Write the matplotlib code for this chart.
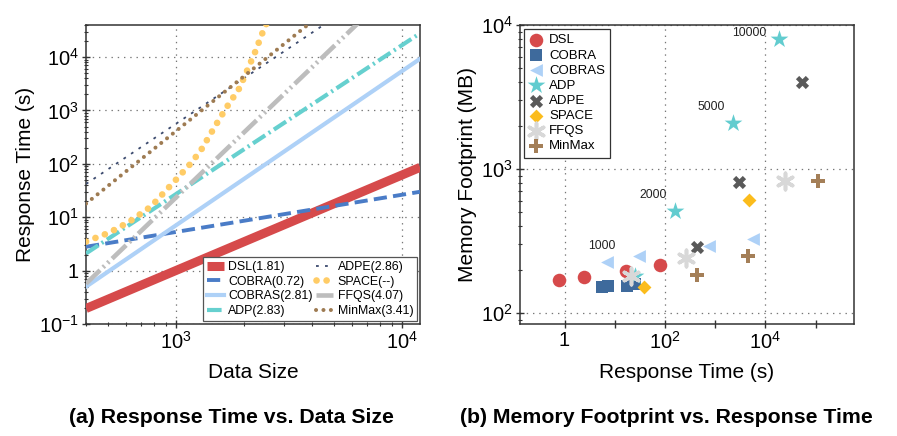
import numpy as np
import matplotlib
matplotlib.use("Agg")
import matplotlib.pyplot as plt
from matplotlib.ticker import FuncFormatter, FixedLocator, LogLocator, NullFormatter

plt.rcParams['font.family'] = ['Liberation Sans', 'DejaVu Sans']
plt.rcParams['mathtext.fontset'] = 'custom'
plt.rcParams['mathtext.rm'] = 'Liberation Sans'
plt.rcParams['mathtext.it'] = 'Liberation Sans:italic'
plt.rcParams['mathtext.bf'] = 'Liberation Sans:bold'
plt.rcParams['mathtext.default'] = 'regular'
plt.rcParams['lines.scale_dashes'] = False

# ---------------- data: panel (a) ----------------
size_ends = [400, 12000]
dsl_rt = [0.195, 86]
cobra_rt = [2.8, 30]
cobras_rt = [0.5, 9300]
adp_rt = [2.1, 28000]
adpe_rt = [42, 650000]
ffqs_rt = [0.57, 560000]
minmax_rt = [18, 2000000]
space_size = [400, 507, 621, 774, 982, 1165, 1291, 1477, 1663, 1905, 2098, 2240, 2455, 2700]
space_rt = [3.5, 5.15, 8.2, 15.8, 46.5, 103, 182, 480, 1100, 2600, 6600, 12600, 34700, 80000]
labels_a = ['DSL(1.81)', 'COBRA(0.72)', 'COBRAS(2.81)', 'ADP(2.83)',
            'ADPE(2.86)', 'SPACE(--)', 'FFQS(4.07)', 'MinMax(3.41)']

# ---------------- data: panel (b) ----------------
dsl_t = [0.795, 2.39, 16.9, 80];       dsl_m = [171, 177, 195, 214]
cobra_t = [5.55, 7.5, 17.9, 25.5];    cobra_m = [152, 153.5, 155, 158]
cobras_t = [7.0, 31, 769, 5610];      cobras_m = [225, 251, 291, 327]
adp_t = [25.5, 160, 2300, 19000];     adp_m = [180, 508, 2100, 7960]
adpe_t = [443, 3040, 53000];          adpe_m = [288, 807, 4010]
space_t = [38.5, 4800];               space_m = [151, 612]
ffqs_t = [21, 264, 24600];            ffqs_m = [180, 242, 820]
minmax_t = [443, 4590, 113000];       minmax_m = [185, 250, 820]
adp_sizes = ['1000', '2000', '5000', '10000']
names_b = ['DSL', 'COBRA', 'COBRAS', 'ADP', 'ADPE', 'SPACE', 'FFQS', 'MinMax']

spine_c = '#333333'

def logfmt(v, pos=None):
    e = int(round(np.log10(v)))
    if e == 0:
        return '1'
    return r'$10^{%d}$' % e

fig = plt.figure(figsize=(8.97, 4.36), dpi=100)
ax1 = fig.add_axes([0.0959, 0.2569, 0.3724, 0.6858])
ax2 = fig.add_axes([0.5797, 0.2569, 0.3724, 0.6858])

# ---- panel (a) ----
ax1.plot(size_ends, dsl_rt, color='#d64a4b', lw=6.5, solid_capstyle='butt', label=labels_a[0], zorder=3)
ax1.plot(size_ends, cobra_rt, color='#4a7cc7', lw=2.8, dashes=(9.5, 4.5), label=labels_a[1], zorder=3)
ax1.plot(size_ends, cobras_rt, color='#aed1f7', lw=3.0, label=labels_a[2], zorder=3)
ax1.plot(size_ends, adp_rt, color='#66d0cf', lw=3.0, dashes=(10.5, 3, 1.5, 3), label=labels_a[3], zorder=3)
ax1.plot(size_ends, adpe_rt, color='#3b4a6e', lw=1.3, dashes=(2, 4.5), label=labels_a[4], zorder=3)
ax1.plot(space_size, space_rt, color='#ffcc66', lw=4.8, dashes=(0.05, 7.2), dash_capstyle='round',
         label=labels_a[5], zorder=3)
ax1.plot(size_ends, ffqs_rt, color='#bdbdbd', lw=3.3, dashes=(14, 3, 1.5, 3, 1.5, 3), label=labels_a[6], zorder=3)
ax1.plot(size_ends, minmax_rt, color='#9e7b52', lw=2.9, dashes=(0.05, 5.3), dash_capstyle='round',
         label=labels_a[7], zorder=3)

ax1.set_xscale('log'); ax1.set_yscale('log')
ax1.set_xlim(400, 12000)
ax1.set_ylim(0.1, 40000)
ax1.xaxis.set_major_locator(FixedLocator([1e3, 1e4]))
ax1.xaxis.set_minor_locator(LogLocator(base=10, subs=np.arange(2, 10)))
ax1.xaxis.set_minor_formatter(NullFormatter())
ax1.xaxis.set_major_formatter(FuncFormatter(logfmt))
ax1.yaxis.set_major_locator(FixedLocator([0.1, 1, 10, 100, 1000, 10000]))
ax1.yaxis.set_minor_locator(LogLocator(base=10, subs=np.arange(2, 10), numticks=20))
ax1.yaxis.set_minor_formatter(NullFormatter())
ax1.yaxis.set_major_formatter(FuncFormatter(logfmt))
ax1.set_xlabel('Data Size', fontsize=15, labelpad=7)
ax1.set_ylabel('Response Time (s)', fontsize=15, labelpad=3)
ax1.grid(True, which='major', linestyle=(0, (1, 3.5)), color='#777777', lw=0.9)
leg1 = ax1.legend(loc='lower right', ncol=2, fontsize=8.9, handlelength=1.4, handletextpad=0.35,
                  columnspacing=0.25, labelspacing=0.22, borderaxespad=0.25, borderpad=0.3,
                  fancybox=False, framealpha=1, edgecolor='#555555')
leg1.get_frame().set_linewidth(0.9)

# ---- panel (b) ----
ax2.scatter(dsl_t, dsl_m, marker='o', s=95, color='#d64a4b', linewidths=0, label=names_b[0], zorder=3)
ax2.scatter(cobra_t, cobra_m, marker='s', s=75, color='#3e6a9c', linewidths=0, label=names_b[1], zorder=3)
ax2.scatter(cobras_t, cobras_m, marker='<', s=85, color='#aed1f7', linewidths=0, label=names_b[2], zorder=3)
ax2.scatter(adp_t, adp_m, marker='*', s=180, color='#62cccf', linewidths=0, label=names_b[3], zorder=3)
ax2.scatter(adpe_t, adpe_m, marker='X', s=90, color='#595959', linewidths=0, label=names_b[4], zorder=3)
ax2.scatter(space_t, space_m, marker='D', s=50, color='#fbbc1c', linewidths=0, label=names_b[5], zorder=3)
ax2.scatter(ffqs_t, ffqs_m, marker=(6, 2, 0), s=140, color='#d8d8d8', linewidths=2.6, label=names_b[6], zorder=3)
ax2.scatter(minmax_t, minmax_m, marker='P', s=110, color='#a47f58', linewidths=0, label=names_b[7], zorder=3)

offs = [(-24, 22), (-16, 11.5), (-16, 11), (-21.5, 4.3)]
for t, m, lab, o in zip(adp_t, adp_m, adp_sizes, offs):
    ax2.annotate(lab, (t, m), xytext=o, textcoords='offset points', ha='center', va='center',
                 fontsize=8.8, color='#222222')

ax2.set_xscale('log'); ax2.set_yscale('log')
ax2.set_xlim(0.13, 5.8e5)
ax2.set_ylim(84, 10000)
ax2.xaxis.set_major_locator(FixedLocator([1, 1e2, 1e4]))
ax2.xaxis.set_minor_locator(FixedLocator([10, 1e3, 1e5]))
ax2.xaxis.set_minor_formatter(NullFormatter())
ax2.xaxis.set_major_formatter(FuncFormatter(logfmt))
ax2.yaxis.set_major_locator(FixedLocator([100, 1000, 10000]))
ax2.yaxis.set_minor_locator(LogLocator(base=10, subs=np.arange(2, 10), numticks=20))
ax2.yaxis.set_minor_formatter(NullFormatter())
ax2.yaxis.set_major_formatter(FuncFormatter(logfmt))
ax2.set_xlabel('Response Time (s)', fontsize=15, labelpad=7)
ax2.set_ylabel('Memory Footprint (MB)', fontsize=15, labelpad=3)
ax2.grid(True, which='major', linestyle=(0, (1, 3.5)), color='#777777', lw=0.9)
leg2 = ax2.legend(loc='upper left', fontsize=9.5, handlelength=1.0, handletextpad=0.5,
                  labelspacing=0.22, borderaxespad=0.3, borderpad=0.4, scatterpoints=1,
                  fancybox=False, framealpha=1, edgecolor='#333333')
leg2.get_frame().set_linewidth(0.9)

for ax in (ax1, ax2):
    for sp in ax.spines.values():
        sp.set_color(spine_c)
        sp.set_linewidth(1.1)
    ax.tick_params(which='major', direction='inout', length=6, width=1.0, color=spine_c,
                   labelsize=14.5, pad=2)
    ax.tick_params(which='minor', direction='inout', length=3.5, width=0.8, color=spine_c)
ax2.tick_params(axis='x', which='minor', length=6, width=1.0)

fig.text(0.2575, 0.043, '(a) Response Time vs. Data Size', ha='center', va='center',
         fontsize=15.3, fontweight='bold')
fig.text(0.7425, 0.043, '(b) Memory Footprint vs. Response Time', ha='center', va='center',
         fontsize=15.3, fontweight='bold')

fig.savefig('out.png', dpi=100)
